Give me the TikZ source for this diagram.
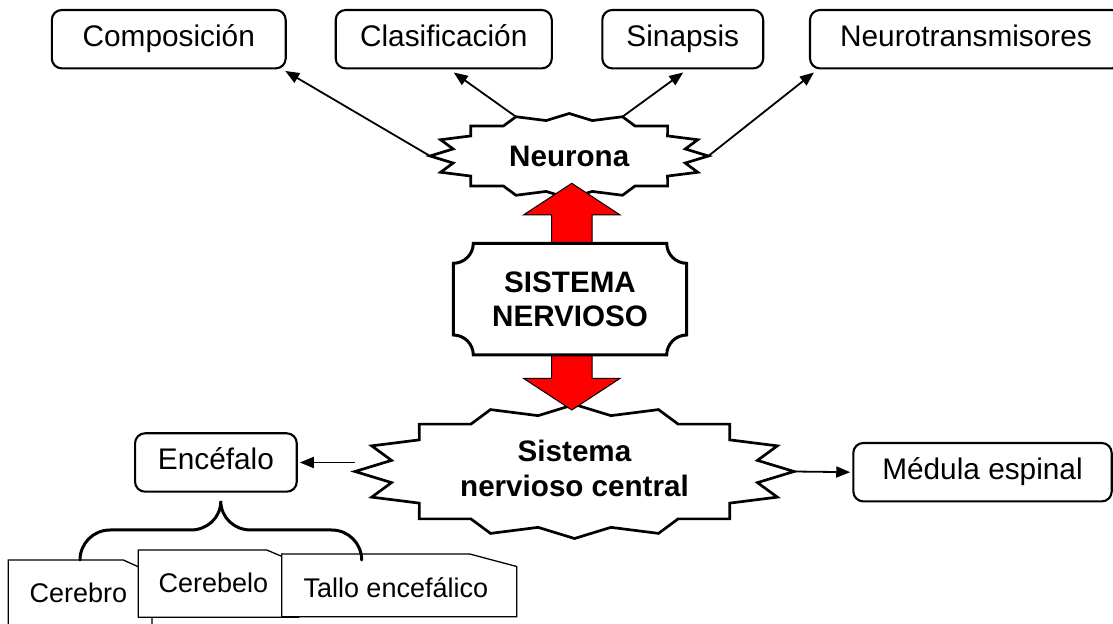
\documentclass[tikz,border=0pt]{standalone}
\usepackage{fontspec}
\setmainfont{Liberation Sans}
\usetikzlibrary{calc,arrows.meta}
\newcommand\drawseal[5]{%
  \foreach \k in {0,...,31}{%
    \pgfmathsetmacro\rr{isodd(\k) ? 0.85 : 1}%
    \coordinate (#1-\k) at ({#2+\rr*#4*cos(\k*11.25)},{#3-\rr*#5*sin(\k*11.25)});
  }%
  \draw[sealline] (#1-0) \foreach \k in {1,...,31}{ -- (#1-\k)} -- cycle;
}
\begin{document}
\begin{tikzpicture}[x=0.5pt,y=-0.5pt,
  boxtxt/.style={font=\fontsize{14.9}{17}\selectfont, text height=0.716em, text depth=0pt, inner sep=0pt},
  topbox/.style={boxtxt, draw, line width=1.05pt, rounded corners=5pt, minimum height=29.2pt},
  sealline/.style={draw, fill=white, line width=1.35pt, line join=miter},
  boldtxt/.style={font=\fontsize{14.8}{17.5}\selectfont\bfseries, align=center, inner sep=0pt},
  plaque/.style={draw, fill=white, line width=1.5pt},
  redarrow/.style={draw=black, fill=red, line width=0.5pt, line join=miter},
  conn/.style={line width=0.9pt, -{Triangle[length=7pt,width=5.5pt]}},
  card/.style={draw, fill=white, line width=0.65pt, line join=miter},
  cardtxt/.style={font=\fontsize{13.5}{16}\selectfont, text height=0.716em, text depth=0pt, inner sep=0pt},
  bracestyle/.style={line width=1.5pt, line cap=round}]
\useasboundingbox (0,0) rectangle (1113,624);
% top boxes
\node[topbox, minimum width=116.95pt] (comp) at (168.75,39.2) {Composición};
\node[topbox, minimum width=108.05pt] (clas) at (443.75,39.2) {Clasificación};
\node[topbox, minimum width=80.45pt] (sin) at (682.75,39.2) {Sinapsis};
\node[topbox, minimum width=156pt] (neu) at (966,39.2) {Neurotransmisores};
% stars
\drawseal{nr}{569.2}{156}{139.2}{42.5}
\drawseal{snc}{574.5}{471.5}{219.5}{67}
\node[boldtxt] (neurona) at (569.2,156) {Neurona};
\node[boldtxt] (sncl) at (574.5,468.5) {Sistema\\nervioso central};
% red arrows
\draw[redarrow] (551.5,243.3) -- (551.5,215) -- (523.4,215) -- (571.8,183.3) -- (620.2,215) -- (592.1,215) -- (592.1,243.3) -- cycle;
\draw[redarrow] (551.5,355) -- (551.5,378.3) -- (523.4,378.3) -- (571.8,410) -- (620.2,378.3) -- (592.1,378.3) -- (592.1,355) -- cycle;
% sistema nervioso plaque
\draw[plaque] (473.3,243.3) -- (666.7,243.3) .. controls (666.7,254.3) and (675.7,263.3) .. (686.7,263.3) -- (686.7,335) .. controls (675.7,335) and (666.7,344) .. (666.7,355) -- (473.3,355) .. controls (473.3,344) and (464.3,335) .. (453.3,335) -- (453.3,263.3) .. controls (464.3,263.3) and (473.3,254.3) .. (473.3,243.3) -- cycle;
\node[boldtxt, font=\fontsize{14.8}{16.65}\selectfont\bfseries] (sn) at (570,299.2) {SISTEMA\\NERVIOSO};
% connectors from Neurona
\draw[conn] (nr-16) -- ($(comp.south east)+(-1.5,1.5)$);
\draw[conn] (nr-10) -- ($(clas.south)+(10,3)$);
\draw[conn] (nr-6) -- ($(sin.south)+(0.5,3)$);
\draw[conn] (nr-0) -- ($(neu.south west)+(5,3)$);
% lower boxes
\node[topbox, minimum width=80.85pt] (enc) at (215.9,462.5) {Encéfalo};
\node[topbox, minimum width=129.2pt] (med) at (982.5,472.2) {Médula espinal};
\draw[conn, shorten >=1pt] (enc.east -| snc-16) -- (enc.east);
\draw[conn, shorten >=1pt] (snc-0) -- (med.west);
% cards
\draw[card] (8.3,560) -- (123.3,560) -- (152,573) -- (152,628) -- (8.3,628) -- cycle;
\node[cardtxt] (cerebro) at (78.3,595) {Cerebro};
\draw[card] (138.3,550) -- (266.7,550) -- (298.8,563.5) -- (298.8,617.3) -- (138.3,617.3) -- cycle;
\node[cardtxt] (cerebelo) at (213.3,585) {Cerebelo};
\draw[card] (281.7,554) -- (469.7,554) -- (516.7,566.5) -- (516.7,616.7) -- (281.7,616.7) -- cycle;
\node[cardtxt] (tallo) at (395.8,590) {Tallo encefálico};
% brace
\draw[bracestyle] (80,560) .. controls (80,543.4) and (93.4,530) .. (110,530) -- (190.8,530) .. controls (207.4,530) and (220.8,517.6) .. (220.8,501) .. controls (220.8,517.6) and (234.2,530) .. (250.8,530) -- (331.7,530) .. controls (348.3,530) and (361.7,543.4) .. (361.7,560);
\end{tikzpicture}
\end{document}
